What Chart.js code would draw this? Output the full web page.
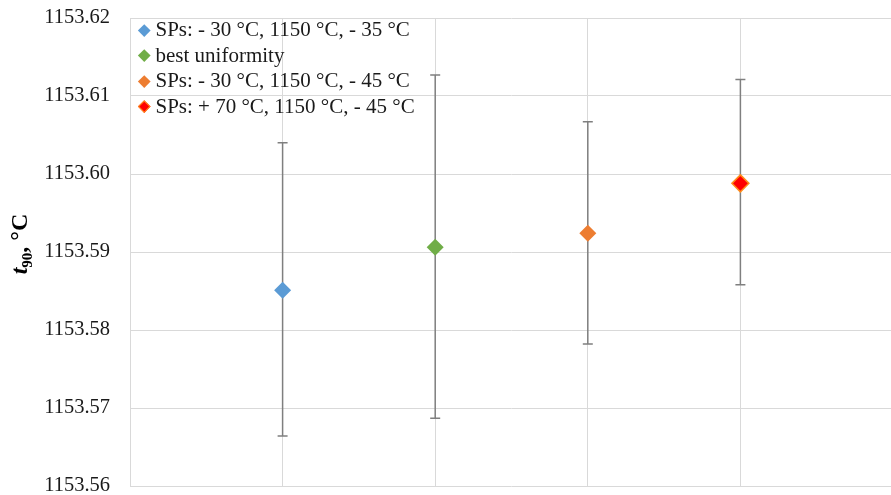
<!DOCTYPE html>
<html>
<head>
<meta charset="utf-8">
<script src="https://cdn.jsdelivr.net/npm/chart.js@4/dist/chart.umd.min.js"></script>
<style>
  html, body { margin: 0; padding: 0; background: #fff; overflow: hidden; width: 891px; height: 495px; }
  #wrap { position: relative; width: 903px; height: 520px; }
  #legend { position: absolute; left: 138px; top: 17px; font-family: "Liberation Serif", "Times New Roman", serif; font-size: 21px; color: #1a1a1a; }
  #legend .row { height: 25.5px; line-height: 25.5px; white-space: nowrap; display: flex; align-items: center; }
  #legend .mk { display: inline-block; width: 8.5px; height: 8.5px; transform: rotate(45deg); margin-left: 2px; margin-right: 7px; box-sizing: border-box; }
</style>
</head>
<body>
<div id="wrap">
  <canvas id="c" width="903" height="520"></canvas>
  <div id="legend"></div>
</div>
<script>
// ---- data ----
const seriesNames = [
  "SPs: - 30 °C, 1150 °C, - 35 °C",
  "best uniformity",
  "SPs: - 30 °C, 1150 °C, - 45 °C",
  "SPs: + 70 °C, 1150 °C, - 45 °C"
];
const xPositions = [1, 2, 3, 4];
const meanValues = [1153.5851, 1153.5906, 1153.5924, 1153.5988];
const upperValues = [1153.6040, 1153.6127, 1153.6067, 1153.6121];
const lowerValues = [1153.5664, 1153.5687, 1153.5782, 1153.5858];
const yTicks = [1153.56, 1153.57, 1153.58, 1153.59, 1153.60, 1153.61, 1153.62];
const fillColors = ["#5B9BD5", "#70AD47", "#ED7D31", "#FF0000"];
const edgeColors = ["#5B9BD5", "#70AD47", "#ED7D31", "#FF8C1A"];

const datasets = seriesNames.map((name, i) => ({
  label: name,
  data: [{ x: xPositions[i], y: meanValues[i], hi: upperValues[i], lo: lowerValues[i] }],
  pointStyle: 'rectRot',
  pointRadius: 8.5,
  pointHoverRadius: 8.5,
  backgroundColor: fillColors[i],
  borderColor: edgeColors[i],
  borderWidth: i === 3 ? 1.5 : 0
}));

const errorBars = {
  id: 'errorBars',
  beforeDatasetsDraw(chart) {
    const ctx = chart.ctx, xs = chart.scales.x, ys = chart.scales.y;
    ctx.save();
    ctx.strokeStyle = '#7F7F7F';
    ctx.lineWidth = 1.5;
    chart.data.datasets.forEach(ds => {
      ds.data.forEach(p => {
        const x = xs.getPixelForValue(p.x);
        const yh = ys.getPixelForValue(p.hi);
        const yl = ys.getPixelForValue(p.lo);
        ctx.beginPath();
        ctx.moveTo(x, yh); ctx.lineTo(x, yl);
        ctx.moveTo(x - 5, yh); ctx.lineTo(x + 5, yh);
        ctx.moveTo(x - 5, yl); ctx.lineTo(x + 5, yl);
        ctx.stroke();
      });
    });
    ctx.restore();
  }
};

const yTitle = {
  id: 'yTitle',
  afterDraw(chart) {
    const ctx = chart.ctx;
    const parts = [
      { t: 't', f: 'italic bold 24px "Liberation Serif"', dy: 0 },
      { t: '90', f: 'bold 15px "Liberation Serif"', dy: 5 },
      { t: ', °C', f: 'bold 24px "Liberation Serif"', dy: 0 }
    ];
    ctx.save();
    let total = 0;
    parts.forEach(p => { ctx.font = p.f; p.w = ctx.measureText(p.t).width; total += p.w; });
    ctx.translate(27, 244);
    ctx.rotate(-Math.PI / 2);
    ctx.fillStyle = '#000';
    ctx.textBaseline = 'alphabetic';
    let x = -total / 2;
    parts.forEach(p => { ctx.font = p.f; ctx.fillText(p.t, x, p.dy); x += p.w; });
    ctx.restore();
  }
};

new Chart(document.getElementById('c'), {
  type: 'scatter',
  data: { datasets },
  plugins: [errorBars, yTitle],
  options: {
    responsive: false,
    animation: false,
    devicePixelRatio: 1,
    layout: { padding: { top: 18, left: 0, right: 0, bottom: 0 } },
    plugins: { legend: { display: false }, tooltip: { enabled: false } },
    scales: {
      x: {
        type: 'linear', min: 0, max: 5,
        ticks: { stepSize: 1, display: false },
        grid: { color: '#D9D9D9', lineWidth: 1, drawTicks: false },
        border: { display: false },
        afterFit(s) { s.height = 34; s.paddingLeft = 0; s.paddingRight = 0; }
      },
      y: {
        min: yTicks[0], max: yTicks[yTicks.length - 1],
        afterBuildTicks(s) { s.ticks = yTicks.map(v => ({ value: v })); },
        ticks: {
          padding: 20,
          color: '#1a1a1a',
          font: { family: '"Liberation Serif"', size: 20.5 },
          callback: v => v.toFixed(2)
        },
        grid: { color: '#D9D9D9', lineWidth: 1, drawTicks: false },
        border: { display: false },
        afterFit(s) { s.width = 130; s.paddingTop = 0; s.paddingBottom = 0; }
      }
    }
  }
});

const lg = document.getElementById('legend');
seriesNames.forEach((n, i) => {
  const row = document.createElement('div');
  row.className = 'row';
  const mk = document.createElement('span');
  mk.className = 'mk';
  mk.style.background = fillColors[i];
  if (i === 3) mk.style.border = '1px solid ' + edgeColors[i];
  row.appendChild(mk);
  row.appendChild(document.createTextNode(n));
  lg.appendChild(row);
});
</script>
</body>
</html>
